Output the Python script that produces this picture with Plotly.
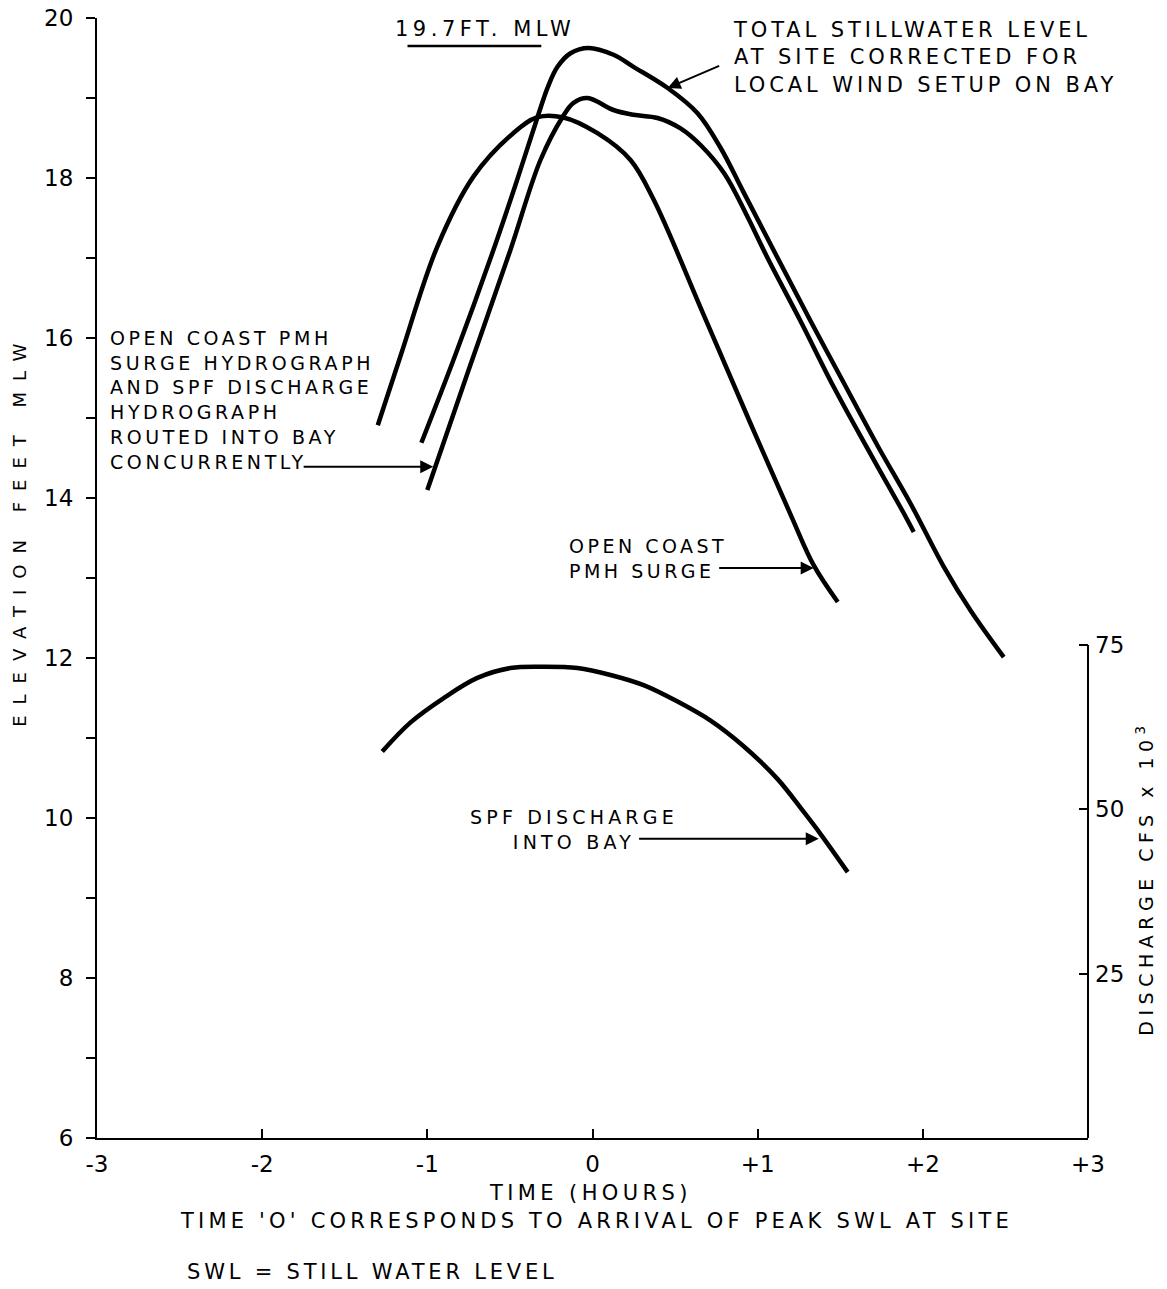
import plotly.graph_objects as go

# ---- data ----
time_total = [-1.036, -0.83, -0.60, -0.467, -0.333, -0.27, -0.212, -0.133, -0.024, 0.127, 0.248,
              0.455, 0.636, 0.776, 0.915, 1.121, 1.321, 1.521, 1.727, 1.927, 2.127, 2.29, 2.49]
elev_total = [14.69, 15.79, 17.10, 17.91, 18.76, 19.14, 19.39, 19.56, 19.625, 19.54, 19.39,
              19.125, 18.81, 18.375, 17.82, 17.0, 16.21, 15.44, 14.65, 13.925, 13.14, 12.59, 12.01]

time_routed = [-1.0, -0.75, -0.497, -0.315, -0.182, -0.115, -0.03, 0.127, 0.248, 0.394,
               0.533, 0.66, 0.80, 0.93, 1.06, 1.26, 1.46, 1.667, 1.867, 1.945]
elev_routed = [14.1, 15.6, 17.1, 18.225, 18.76, 18.94, 19.0, 18.85, 18.79, 18.75,
               18.62, 18.4, 18.05, 17.55, 17.0, 16.21, 15.39, 14.61, 13.875, 13.575]

time_open = [-1.30, -1.16, -0.94, -0.72, -0.48, -0.333, -0.182, 0.03, 0.23,
             0.37, 0.673, 0.958, 1.2, 1.339, 1.485]
elev_open = [14.91, 15.79, 17.14, 18.02, 18.56, 18.76, 18.76, 18.56, 18.225,
             17.73, 16.29, 14.925, 13.79, 13.16, 12.7]

time_spf = [-1.273, -1.103, -0.903, -0.697, -0.497, -0.297, -0.091, 0.109, 0.309, 0.515,
            0.715, 0.915, 1.121, 1.279, 1.382, 1.545]
q_spf = [58.8, 63.2, 66.9, 70.0, 71.5, 71.7, 71.5, 70.45, 68.9, 66.4,
         63.5, 59.6, 54.6, 49.6, 46.2, 40.45]

x_ticks = [-3, -2, -1, 0, 1, 2, 3]
x_ticktext = ["-3", "-2", "-1", "0", "+1", "+2", "+3"]
y_ticks = [6, 8, 10, 12, 14, 16, 18, 20]
y_minor = [7, 9, 11, 13, 15, 17, 19]
y2_ticks = [25, 50, 75]
mlw_level = 19.65

FONT = "DejaVu Sans"


def sp(text, ls):
    return "<br>".join(f"<span style='letter-spacing:{ls}px'>{t}</span>" for t in text.split("\n"))


fig = go.Figure()
line = dict(color="black", width=4.5, shape="spline", smoothing=1.0)
fig.add_trace(go.Scatter(x=time_total, y=elev_total, mode="lines", line=line,
                         name="Total stillwater level"))
fig.add_trace(go.Scatter(x=time_routed, y=elev_routed, mode="lines", line=line,
                         name="Routed into bay"))
fig.add_trace(go.Scatter(x=time_open, y=elev_open, mode="lines", line=line,
                         name="Open coast PMH surge"))
fig.add_trace(go.Scatter(x=time_spf, y=q_spf, mode="lines", line=line, yaxis="y2",
                         name="SPF discharge"))

tickfont = dict(family=FONT, size=23, color="black")
fig.update_layout(
    width=1167, height=1289,
    margin=dict(l=97, r=79, t=18, b=151),
    paper_bgcolor="white", plot_bgcolor="white",
    showlegend=False,
    font=dict(family=FONT, size=19, color="black"),
    xaxis=dict(range=[-3, 3], tickvals=x_ticks, ticktext=x_ticktext, ticks="inside",
               ticklen=9, tickwidth=2, tickcolor="black", showline=True, linewidth=2,
               linecolor="black", showgrid=False, zeroline=False, tickfont=tickfont,
               automargin=False, ticklabelstandoff=4),
    yaxis=dict(range=[6, 20], tickvals=y_ticks, ticks="outside", ticklen=9, tickwidth=2,
               tickcolor="black", showline=True, linewidth=2, linecolor="black",
               showgrid=False, zeroline=False, tickfont=tickfont, automargin=False,
               ticklabelstandoff=8,
               minor=dict(tickvals=y_minor, ticks="outside", ticklen=9, tickwidth=2,
                          tickcolor="black")),
    yaxis2=dict(overlaying="y", side="right", range=[0, 170.4], tickvals=y2_ticks,
                ticks="inside", ticklen=9, tickwidth=2, tickcolor="black", showline=False,
                showgrid=False, zeroline=False, tickfont=tickfont, automargin=False,
                ticklabelstandoff=6),
)

fig.add_shape(type="line", xref="paper", x0=1, x1=1, yref="y2", y0=0, y1=75,
              line=dict(color="black", width=2))
fig.add_shape(type="line", xref="x", yref="y", x0=-1.12, x1=-0.31, y0=mlw_level, y1=mlw_level,
              line=dict(color="black", width=2.5))

ann = []


def text(x, y, s, size, ls, xanchor="left", yanchor="middle", align="left",
         xref="x", yref="y", angle=0):
    ann.append(dict(x=x, y=y, xref=xref, yref=yref, text=sp(s, ls), showarrow=False,
                    xanchor=xanchor, yanchor=yanchor, align=align, textangle=angle,
                    font=dict(family=FONT, size=size, color="black")))


def arrow(x0, y0, x1, y1):
    ann.append(dict(x=x1, y=y1, ax=x0, ay=y0, xref="x", yref="y", axref="x", ayref="y",
                    text="", showarrow=True, arrowhead=2, arrowsize=1.3, arrowwidth=2,
                    arrowcolor="black"))


text(-1.206, 19.86, "19.7FT. MLW", 21, 4.5)
text(0.836, 19.51, "TOTAL STILLWATER LEVEL\nAT SITE CORRECTED FOR\nLOCAL WIND SETUP ON BAY", 21, 3.9)
arrow(0.776, 19.41, 0.455, 19.125)
text(-2.933, 15.225, "OPEN COAST PMH\nSURGE HYDROGRAPH\nAND SPF DISCHARGE\nHYDROGRAPH\nROUTED INTO BAY\nCONCURRENTLY", 19, 3.6)
arrow(-1.758, 14.39, -0.964, 14.39)
text(-0.152, 13.25, "OPEN COAST\nPMH SURGE", 19, 3.5)
arrow(0.758, 13.125, 1.339, 13.125)
text(-0.115, 9.86, "SPF DISCHARGE\nINTO BAY", 19, 4.2, xanchor="center", align="center")
arrow(0.273, 9.74, 1.37, 9.74)

text(-0.01, -0.049, "TIME (HOURS)", 21, 4.4, xanchor="center", align="center", yref="paper")
text(-2.51, -0.074, "TIME 'O' CORRESPONDS TO ARRIVAL OF PEAK SWL AT SITE", 21, 4.2, yref="paper")
text(-2.467, -0.1196, "SWL = STILL WATER LEVEL", 21, 3.8, yref="paper")

text(-0.0777, 0.543, "ELEVATION FEET MLW", 18, 11, xanchor="center", align="center",
     xref="paper", yref="paper", angle=-90)
text(1.058, 0.232, "DISCHARGE CFS x 10<sup>3</sup>", 19, 5.5, xanchor="center", align="center",
     xref="paper", yref="paper", angle=-90)

fig.update_layout(annotations=ann)
fig.write_html("out.html")
